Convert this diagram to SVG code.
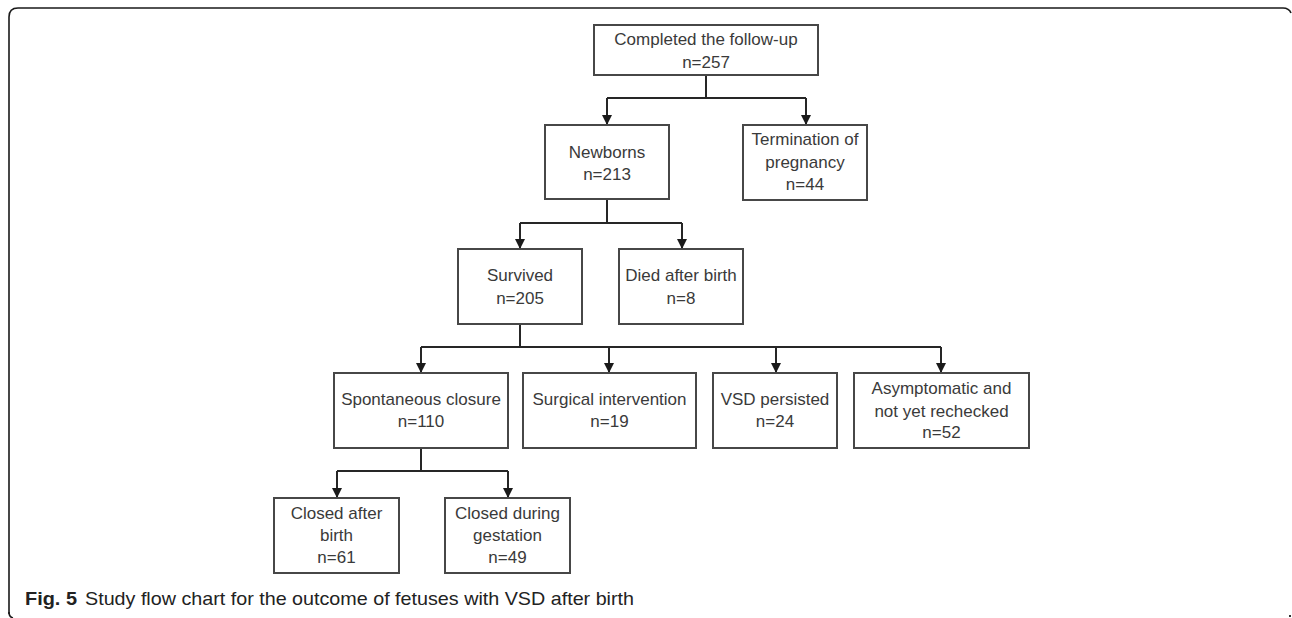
<svg xmlns="http://www.w3.org/2000/svg" width="1292" height="618" viewBox="0 0 1292 618">
<style>
.box{fill:#fff;stroke:#474747;stroke-width:2}
.t{font-family:"Liberation Sans",Arial,sans-serif;font-size:17px;fill:#3a3a3a;text-anchor:middle}
.c{fill:none;stroke:#262626;stroke-width:2}
.frame{fill:none;stroke:#1a1a1a;stroke-width:1.6}
.cap{font-family:"Liberation Sans",Arial,sans-serif;font-size:19px;fill:#222}
</style>
<defs>
<marker id="ah" viewBox="0 0 10 10" refX="10" refY="5" markerWidth="10" markerHeight="10" markerUnits="userSpaceOnUse" orient="auto">
<path d="M0,0 L10,5 L0,10 Z" fill="#1a1a1a"/>
</marker>
</defs>
<rect width="1292" height="618" fill="#fff"/>
<path class="frame" d="M9,614 L9,17 Q9,8 18,8 L1283,8 Q1289,8 1291,13"/>
<path class="frame" d="M9,612 Q9,617 13,618"/>
<rect x="1289" y="615" width="2" height="2" fill="#333"/>

<g id="connectors">
<path class="c" d="M706,75 L706,98 M607,98 L806,98"/>
<path class="c" d="M607,98 L607,125" marker-end="url(#ah)"/>
<path class="c" d="M806,98 L806,125" marker-end="url(#ah)"/>
<path class="c" d="M607,199 L607,223 M520,223 L682,223"/>
<path class="c" d="M520,223 L520,249" marker-end="url(#ah)"/>
<path class="c" d="M682,223 L682,249" marker-end="url(#ah)"/>
<path class="c" d="M520,324 L520,347 M421,347 L941,347"/>
<path class="c" d="M421,347 L421,373" marker-end="url(#ah)"/>
<path class="c" d="M609,347 L609,373" marker-end="url(#ah)"/>
<path class="c" d="M776,347 L776,373" marker-end="url(#ah)"/>
<path class="c" d="M941,347 L941,373" marker-end="url(#ah)"/>
<path class="c" d="M421,448 L421,471 M337,471 L508,471"/>
<path class="c" d="M337,471 L337,498" marker-end="url(#ah)"/>
<path class="c" d="M508,471 L508,498" marker-end="url(#ah)"/>
</g>

<g id="completed">
<rect class="box" x="594" y="25" width="224" height="50"/>
<text class="t" x="706" y="45">Completed the follow-up</text>
<text class="t" x="706" y="68">n=257</text>
</g>
<g id="newborns">
<rect class="box" x="545" y="125" width="124" height="74"/>
<text class="t" x="607" y="158">Newborns</text>
<text class="t" x="607" y="180">n=213</text>
</g>
<g id="termination">
<rect class="box" x="743" y="125" width="124" height="75"/>
<text class="t" x="805" y="145">Termination of</text>
<text class="t" x="805" y="168">pregnancy</text>
<text class="t" x="805" y="190">n=44</text>
</g>
<g id="survived">
<rect class="box" x="458" y="249" width="124" height="75"/>
<text class="t" x="520" y="281">Survived</text>
<text class="t" x="520" y="304">n=205</text>
</g>
<g id="died">
<rect class="box" x="619" y="249" width="124" height="75"/>
<text class="t" x="681" y="281">Died after birth</text>
<text class="t" x="681" y="304">n=8</text>
</g>
<g id="spontaneous">
<rect class="box" x="334" y="373" width="174" height="75"/>
<text class="t" x="421" y="405">Spontaneous closure</text>
<text class="t" x="421" y="427">n=110</text>
</g>
<g id="surgical">
<rect class="box" x="523" y="373" width="173" height="75"/>
<text class="t" x="609.5" y="405">Surgical intervention</text>
<text class="t" x="609.5" y="427">n=19</text>
</g>
<g id="vsd">
<rect class="box" x="713" y="373" width="124" height="75"/>
<text class="t" x="775" y="405">VSD persisted</text>
<text class="t" x="775" y="427">n=24</text>
</g>
<g id="asymptomatic">
<rect class="box" x="854" y="373" width="175" height="75"/>
<text class="t" x="941.5" y="394">Asymptomatic and</text>
<text class="t" x="941.5" y="417">not yet rechecked</text>
<text class="t" x="941.5" y="438">n=52</text>
</g>
<g id="closed-after">
<rect class="box" x="274" y="498" width="125" height="75"/>
<text class="t" x="336.5" y="519">Closed after</text>
<text class="t" x="336.5" y="541">birth</text>
<text class="t" x="336.5" y="563">n=61</text>
</g>
<g id="closed-during">
<rect class="box" x="445" y="498" width="125" height="75"/>
<text class="t" x="507.5" y="519">Closed during</text>
<text class="t" x="507.5" y="541">gestation</text>
<text class="t" x="507.5" y="563">n=49</text>
</g>

<g id="caption">
<text class="cap" x="25" y="605"><tspan font-weight="bold" textLength="52" lengthAdjust="spacingAndGlyphs">Fig. 5</tspan></text>
<text class="cap" x="85" y="605" textLength="549" lengthAdjust="spacingAndGlyphs">Study flow chart for the outcome of fetuses with VSD after birth</text>
</g>
</svg>
